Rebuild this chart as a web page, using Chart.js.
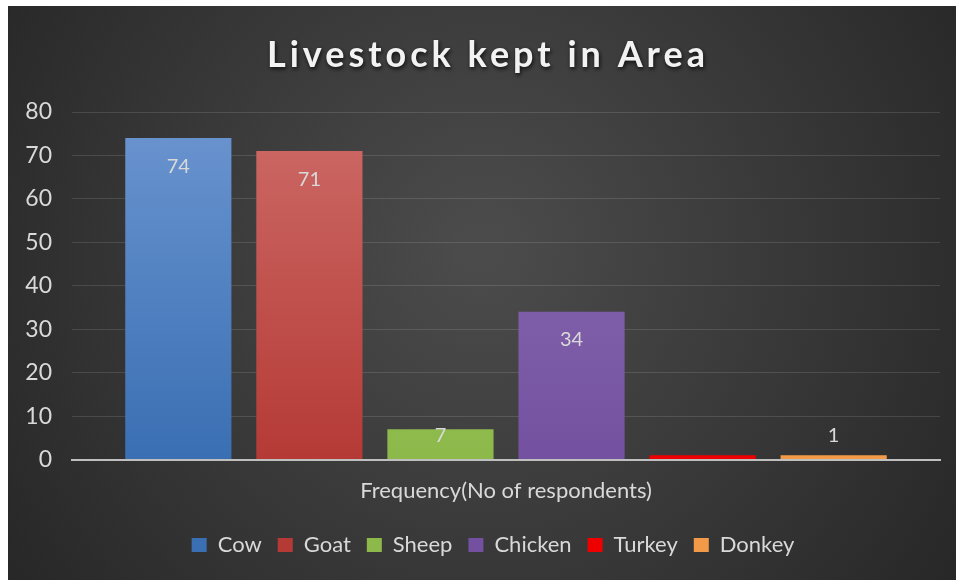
<!DOCTYPE html>
<html>
<head>
<meta charset="utf-8">
<script src="https://cdn.jsdelivr.net/npm/chart.js@4.4.1/dist/chart.umd.min.js"></script>
<style>
    html, body { margin: 0; padding: 0; background: #fff; }
    #wrap { position: absolute; left: 8px; top: 6px; width: 948px; height: 574px; }
</style>
</head>
<body>
<div id="wrap"><canvas id="livestockChart"></canvas></div>
<script>
// Livestock kept in Area - data
const chartTitle = 'Livestock kept in Area';
const categories = ['Frequency(No of respondents)'];
const animals = ['Cow', 'Goat', 'Sheep', 'Chicken', 'Turkey', 'Donkey'];
const counts = [74, 71, 7, 34, 1, 1];
const showLabel = [true, true, true, true, false, true];
const yTicks = [0, 10, 20, 30, 40, 50, 60, 70, 80];

const topColors = ['#6b95d0', '#cd6b67', '#a0cc60', '#8e6fb4', '#ff0000', '#f7a55a'];
const bottomColors = ['#3a6fb3', '#b53a36', '#8cb94a', '#7351a0', '#ee0000', '#f39a48'];

const FONT = 'Lato, "Open Sans", sans-serif';
const TEXT = '#d9d9d9';

function barFill(i) {
    return function(context) {
        const area = context.chart.chartArea;
        if (!area) return bottomColors[i];
        const g = context.chart.ctx.createLinearGradient(0, area.top, 0, area.bottom);
        g.addColorStop(0, topColors[i]);
        g.addColorStop(1, bottomColors[i]);
        return g;
    };
}

const datasets = animals.map((name, i) => ({
    label: name,
    data: [counts[i]],
    backgroundColor: barFill(i),
    borderWidth: 0,
    categoryPercentage: 0.906,
    barPercentage: 0.81
}));

// dark radial background + title with shadow
const backdrop = {
    id: 'backdrop',
    beforeDraw(chart) {
        const { ctx, width, height } = chart;
        ctx.save();
        const g = ctx.createRadialGradient(width * 0.5, height * 0.42, 20, width * 0.5, height * 0.45, width * 0.62);
        g.addColorStop(0, '#4b4b4b');
        g.addColorStop(1, '#262626');
        ctx.fillStyle = g;
        ctx.fillRect(0, 0, width, height);

        ctx.font = 'bold 36px ' + FONT;
        ctx.letterSpacing = '4px';
        ctx.textAlign = 'center';
        ctx.textBaseline = 'middle';
        ctx.shadowColor = 'rgba(0,0,0,0.8)';
        ctx.shadowBlur = 4;
        ctx.shadowOffsetX = 1;
        ctx.shadowOffsetY = 2;
        ctx.fillStyle = '#f2f2f2';
        ctx.fillText(chartTitle, 480, 49);
        ctx.restore();
    }
};

// legend in the reference sits a little right of centre and lower
const legendShift = {
    id: 'legendShift',
    afterLayout(chart) {
        chart.legend.left += 19;
        chart.legend.right += 19;
        chart.legend.top += 4;
        chart.legend.bottom += 4;
    }
};

// value labels, Excel-style inside end
const valueLabels = {
    id: 'valueLabels',
    afterDatasetsDraw(chart) {
        const { ctx } = chart;
        ctx.save();
        ctx.font = '20px ' + FONT;
        ctx.fillStyle = TEXT;
        ctx.textAlign = 'center';
        ctx.textBaseline = 'middle';
        chart.data.datasets.forEach((ds, i) => {
            if (!showLabel[i]) return;
            const bar = chart.getDatasetMeta(i).data[0];
            const y = Math.min(bar.y + 28, bar.base - 24);
            ctx.fillText(ds.data[0], bar.x, y);
        });
        ctx.restore();
    }
};

new Chart(document.getElementById('livestockChart').getContext('2d'), {
    type: 'bar',
    data: { labels: categories, datasets: datasets },
    plugins: [backdrop, legendShift, valueLabels],
    options: {
        responsive: true,
        maintainAspectRatio: false,
        animation: false,
        layout: { padding: { top: 106, right: 16, left: 0, bottom: 18 } },
        plugins: {
            title: { display: false },
            tooltip: { enabled: false },
            legend: {
                position: 'bottom',
                labels: {
                    color: TEXT,
                    font: { family: FONT, size: 22 },
                    boxWidth: 15,
                    boxHeight: 14,
                    padding: 16
                }
            }
        },
        scales: {
            x: {
                grid: { display: false },
                border: { display: true, color: '#bfbfbf', width: 2 },
                ticks: { color: TEXT, font: { family: FONT, size: 22 }, padding: 10 }
            },
            y: {
                min: 0,
                max: 80,
                afterFit(scale) { scale.width = 64; },
                afterBuildTicks(scale) { scale.ticks = yTicks.map(v => ({ value: v })); },
                border: { display: false },
                grid: {
                    color: ctx => ctx.tick && ctx.tick.value === 0 ? 'rgba(0,0,0,0)' : 'rgba(255,255,255,0.12)',
                    drawTicks: false
                },
                ticks: { color: TEXT, font: { family: FONT, size: 23 }, padding: 20 }
            }
        }
    }
});
</script>
</body>
</html>
